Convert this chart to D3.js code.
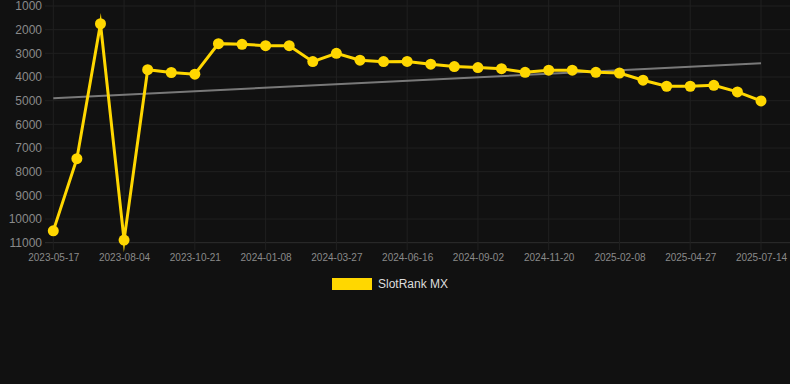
<!DOCTYPE html>
<html>
<head>
<meta charset="utf-8">
<script src="https://cdn.jsdelivr.net/npm/d3@7"></script>
<style>
  html, body { margin: 0; padding: 0; background: #111111; }
  svg { display: block; font-family: "Liberation Sans", Arial, sans-serif; }
</style>
</head>
<body>
<svg width="790" height="384"></svg>
<script>
var dates = [
    "2023-05-17", "2023-06-12", "2023-07-09", "2023-08-04", "2023-08-30", "2023-09-25",
    "2023-10-21", "2023-11-16", "2023-12-13", "2024-01-08", "2024-02-03", "2024-03-01",
    "2024-03-27", "2024-04-23", "2024-05-20", "2024-06-16", "2024-07-12", "2024-08-07",
    "2024-09-02", "2024-09-28", "2024-10-25", "2024-11-20", "2024-12-17", "2025-01-12",
    "2025-02-08", "2025-03-06", "2025-04-01", "2025-04-27", "2025-05-23", "2025-06-18",
    "2025-07-14"
];

var ranks = [
    10500, 7450, 1750, 10890, 3690, 3810,
    3880, 2590, 2620, 2675, 2675, 3350,
    3000, 3290, 3350, 3340, 3460, 3560,
    3600, 3650, 3800, 3710, 3710, 3800,
    3830, 4135, 4390, 4390, 4350, 4630,
    5010
];

var yTicks = [1000, 2000, 3000, 4000, 5000, 6000, 7000, 8000, 9000, 10000, 11000];
var seriesName = "SlotRank MX";

var svg = d3.select("svg"),
    width = +svg.attr("width"),
    height = +svg.attr("height");

var x = d3.scalePoint()
    .domain(dates)
    .range([53.3, 761]);

var y = d3.scaleLinear()
    .domain([1000, 11000])
    .range([6, 242.7]);

var xTicks = dates.filter(function(d, i) { return i % 3 === 0; });

// grid
var grid = svg.append("g");

grid.selectAll(".hgrid")
    .data(yTicks)
    .enter().append("line")
        .attr("x1", 45)
        .attr("x2", width)
        .attr("y1", function(d) { return y(d); })
        .attr("y2", function(d) { return y(d); })
        .attr("stroke", function(d) { return d === 11000 ? "#2e2e2e" : "#202020"; })
        .attr("stroke-width", 1);

grid.selectAll(".vgrid")
    .data(xTicks)
    .enter().append("line")
        .attr("x1", function(d) { return x(d); })
        .attr("x2", function(d) { return x(d); })
        .attr("y1", 0)
        .attr("y2", 250)
        .attr("stroke", "#202020")
        .attr("stroke-width", 1);

// axes
var yAxis = svg.append("g")
    .attr("transform", "translate(42,0)")
    .call(d3.axisLeft(y).tickValues(yTicks).tickSize(0).tickPadding(0).tickFormat(d3.format("d")));
yAxis.select(".domain").remove();
yAxis.selectAll("text")
    .attr("fill", "#8a8a8a")
    .style("font-size", "12px");

var xAxis = svg.append("g")
    .attr("transform", "translate(0,250)")
    .call(d3.axisBottom(x).tickValues(xTicks).tickSize(0).tickPadding(4));
xAxis.select(".domain").remove();
xAxis.selectAll("text")
    .attr("fill", "#8a8a8a")
    .style("font-size", "10px");

// trend line (least squares over the index)
var n = ranks.length,
    meanI = (n - 1) / 2,
    meanV = d3.mean(ranks),
    num = 0, den = 0;
ranks.forEach(function(v, i) {
    num += (i - meanI) * (v - meanV);
    den += (i - meanI) * (i - meanI);
});
var slope = num / den,
    intercept = meanV - slope * meanI;

svg.append("line")
    .attr("x1", x(dates[0]))
    .attr("x2", x(dates[n - 1]))
    .attr("y1", y(intercept))
    .attr("y2", y(intercept + slope * (n - 1)))
    .attr("stroke", "#8c8c8c")
    .attr("stroke-width", 2)
    .attr("stroke-opacity", 0.85);

// series
var line = d3.line()
    .x(function(d, i) { return x(dates[i]); })
    .y(function(d) { return y(d); });

svg.append("path")
    .datum(ranks)
    .attr("d", line)
    .attr("fill", "none")
    .attr("stroke", "#FFD700")
    .attr("stroke-width", 3)
    .attr("stroke-linejoin", "miter")
    .attr("stroke-miterlimit", 10);

svg.selectAll(".dot")
    .data(ranks)
    .enter().append("circle")
        .attr("class", "dot")
        .attr("cx", function(d, i) { return x(dates[i]); })
        .attr("cy", function(d) { return y(d); })
        .attr("r", 5.5)
        .attr("fill", "#FFD700");

// legend
var legend = svg.append("g");
legend.append("rect")
    .attr("x", 332)
    .attr("y", 278)
    .attr("width", 40)
    .attr("height", 12)
    .attr("fill", "#FFD700");
legend.append("text")
    .attr("x", 378)
    .attr("y", 284)
    .attr("dy", "0.35em")
    .attr("fill", "#dddddd")
    .style("font-size", "12px")
    .text(seriesName);
</script>
</body>
</html>
